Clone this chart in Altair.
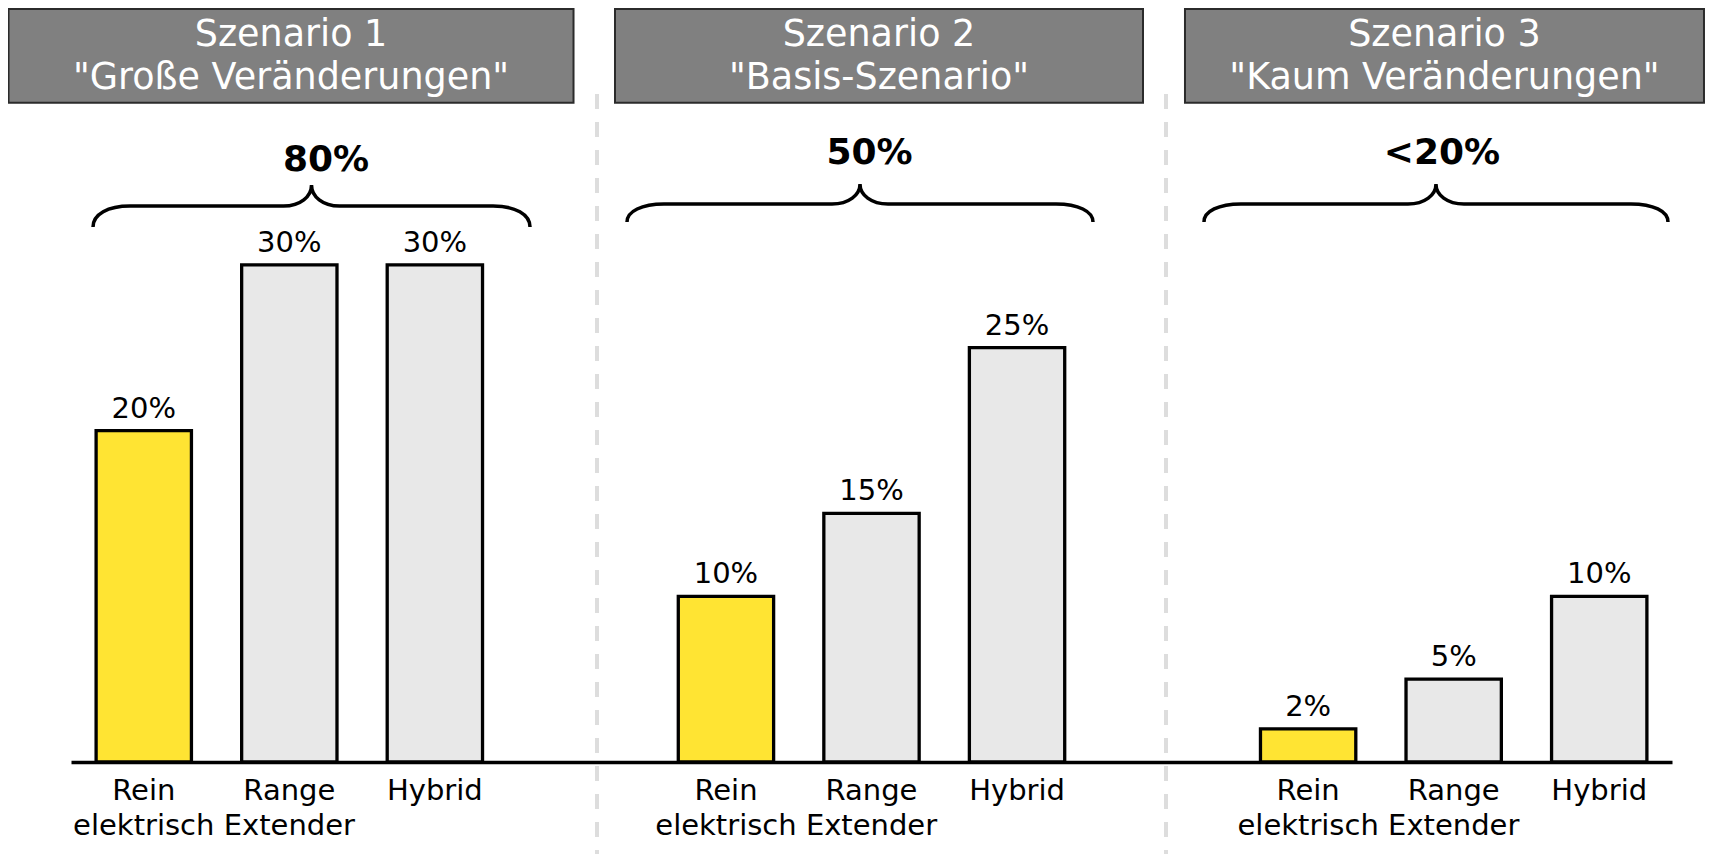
import altair as alt
import pandas as pd

# ---------------- data ----------------
scenarios = ["Szenario 1", "Szenario 2", "Szenario 3"]
subtitles = ['"Große Veränderungen"', '"Basis-Szenario"', '"Kaum Veränderungen"']
totals = ["80%", "50%", "<20%"]
types = ["Rein elektrisch", "Range Extender", "Hybrid"]
rein = [20, 10, 2]
range_ext = [30, 15, 5]
hybrid = [30, 25, 10]

FONT = "DejaVu Sans"
series = [rein, range_ext, hybrid]

rows = []
domain = []
for s in range(3):
    for t, name in enumerate(types):
        key = f"{s + 1}|{name}"
        domain.append(key)
        v = series[t][s]
        rows.append({"slot": key, "typ": name, "value": v, "label": f"{v}%"})
    if s < 2:
        domain.append(f"gap{s + 1}")
bars_df = pd.DataFrame(rows)

xscale = alt.Scale(domain=domain, paddingInner=0.345, paddingOuter=0.1725)
xaxis = alt.Axis(
    title=None,
    labelExpr="indexof(datum.value, 'gap') === 0 ? '' : split(substring(datum.value, 2), ' ')",
    labelFont=FONT, labelFontSize=29, labelColor="black",
    labelPadding=14, labelLineHeight=35, labelAngle=0,
    labelOverlap=False, labelLimit=400, labelBound=False,
    ticks=False, grid=False, domainColor="black", domainWidth=3.5,
)
X = alt.X("slot:N", scale=xscale, axis=xaxis)
Y = alt.Y("value:Q", scale=alt.Scale(domain=[0, 45.5], nice=False, zero=True), axis=None)

bars = alt.Chart(bars_df).mark_bar(stroke="black", strokeWidth=3.3).encode(
    x=X, y=Y,
    color=alt.Color("typ:N", scale=alt.Scale(domain=types, range=["#FFE433", "#E8E8E8", "#E8E8E8"]), legend=None),
)
vlabels = alt.Chart(bars_df).mark_text(
    font=FONT, fontSize=29, baseline="alphabetic", dy=-13, color="black"
).encode(x=X, y=Y, text="label:N")

layers = []

# dashed separators
gap_off = [16.6, 3.4]
for g in range(2):
    gdf = pd.DataFrame({"slot": [f"gap{g + 1}"]})
    layers.append(
        alt.Chart(gdf).mark_rule(color="#dddddd", strokeWidth=4, strokeDash=[15, 13], xOffset=gap_off[g])
        .encode(x=alt.X("slot:N", scale=xscale, axis=xaxis), y=alt.value(86), y2=alt.value(846))
    )

layers += [bars, vlabels]


def brace_path(hw, d, r, c, k):
    D, R, C, K = d / hw, r / hw, c / hw, k / hw
    return (
        f"M -1 {D:.4f} C -1 {D * 0.4:.4f} {-1 + C * 0.4:.4f} 0 {-1 + C:.4f} 0 "
        f"L {-K:.4f} 0 C {-K * 0.4:.4f} 0 0 {-R * 0.45:.4f} 0 {-R:.4f} "
        f"C 0 {-R * 0.45:.4f} {K * 0.4:.4f} 0 {K:.4f} 0 "
        f"L {1 - C:.4f} 0 C {1 - C * 0.4:.4f} 0 1 {D * 0.4:.4f} 1 {D:.4f}"
    )


box_w = [565, 528, 519]
box_off = [1.7, 7.5, -9.2]
tot_off = [36.7, -2, -11.7]
tot_y = [163, 156, 156]
br_off = [22.2, -11.5, -17.7]
br_hw = [218.5, 233, 232]
br_y = [198, 196, 196]
br_d = [21, 18, 18]
br_r = [21, 20, 20]

for s in range(3):
    hdf = pd.DataFrame({
        "slot": [domain[4 * s + 1]],
        "line1": [scenarios[s]],
        "line2": [subtitles[s]],
        "total": [totals[s]],
    })
    hx = alt.X("slot:N", scale=xscale, axis=xaxis)
    base = alt.Chart(hdf)
    layers.append(
        base.mark_bar(width=box_w[s], xOffset=box_off[s], fill="#808080", stroke="#2b2b2b", strokeWidth=2)
        .encode(x=hx, y=alt.value(1), y2=alt.value(94.7))
    )
    layers.append(
        base.mark_text(font=FONT, fontSize=36.5, color="white", baseline="alphabetic", xOffset=box_off[s])
        .encode(x=hx, y=alt.value(38.3), text="line1:N")
    )
    layers.append(
        base.mark_text(font=FONT, fontSize=36.5, color="white", baseline="alphabetic", xOffset=box_off[s])
        .encode(x=hx, y=alt.value(81.3), text="line2:N")
    )
    layers.append(
        base.mark_text(font=FONT, fontSize=36, fontWeight="bold", color="black", baseline="alphabetic",
                       xOffset=tot_off[s])
        .encode(x=hx, y=alt.value(tot_y[s]), text="total:N")
    )
    layers.append(
        base.mark_point(
            shape=brace_path(br_hw[s], br_d[s], br_r[s], 37, 28),
            size=(2 * br_hw[s]) ** 2, filled=False, stroke="black", strokeWidth=3.5,
            opacity=1, xOffset=br_off[s],
        ).encode(x=hx, y=alt.value(br_y[s]))
    )

chart = alt.layer(*layers).properties(
    width=1601, height=754,
    padding={"left": 63, "top": 0, "right": 33, "bottom": 92},
    autosize=alt.AutoSizeParams(type="none"),
    background="white",
).configure_view(strokeWidth=0)

chart.save("out.html", embed_options={"renderer": "svg", "actions": False})
